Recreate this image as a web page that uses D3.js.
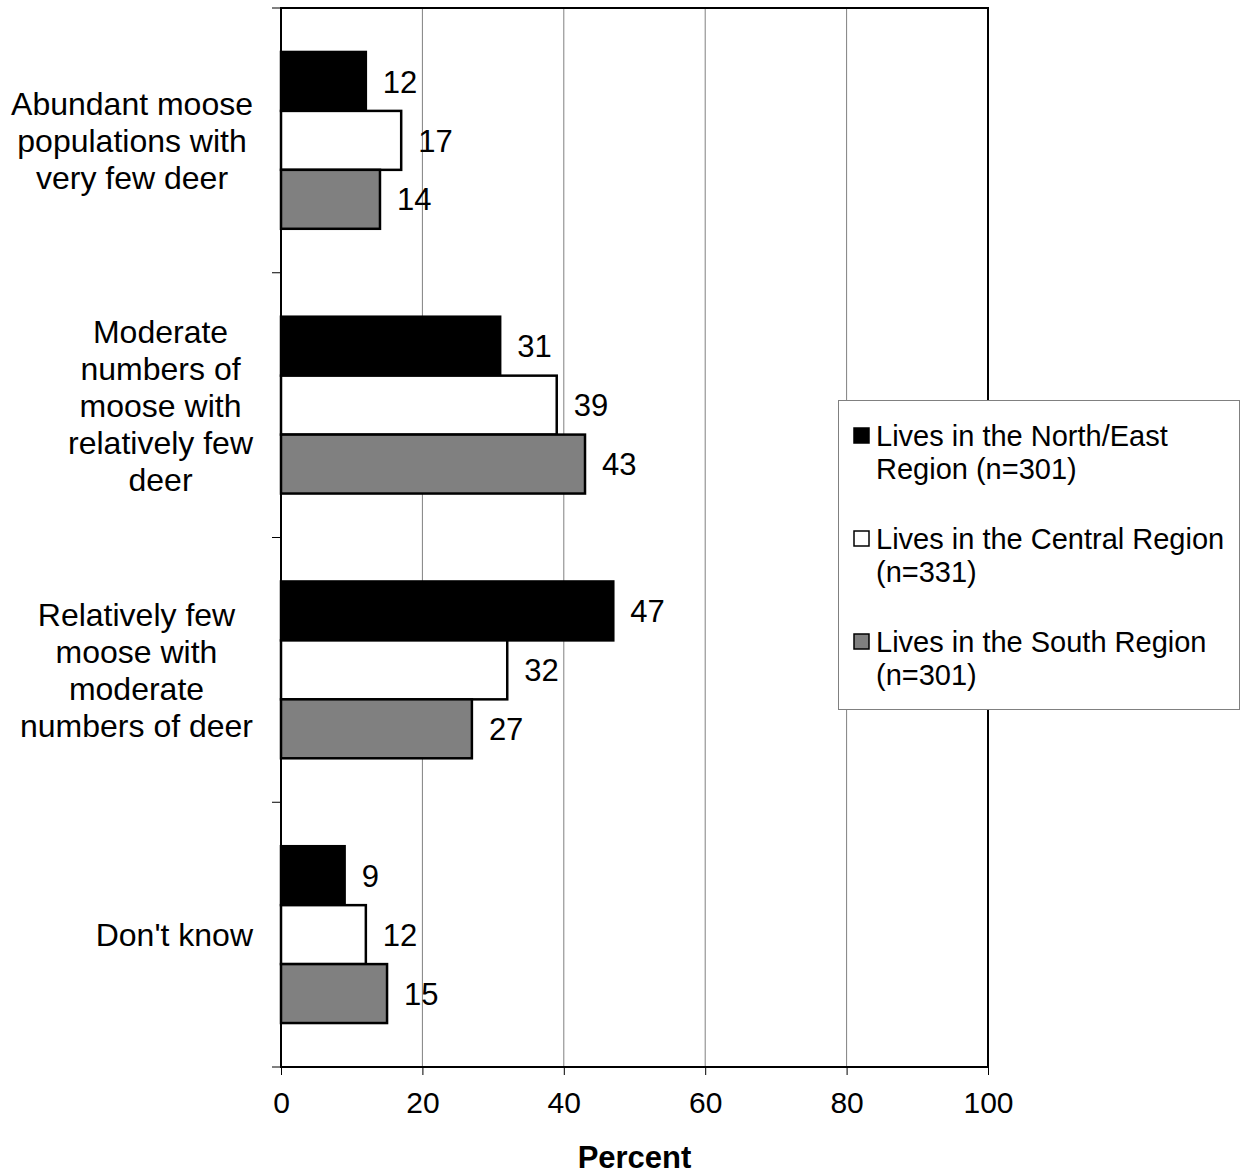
<!DOCTYPE html>
<html><head><meta charset="utf-8">
<script src="https://cdn.jsdelivr.net/npm/d3@7"></script>
<style>body{margin:0;background:#fff}svg{display:block;font-family:"Liberation Sans",Arial,sans-serif}</style>
</head><body><svg id="c" width="1241" height="1174"></svg>
<script>
const categories = [
  ["Abundant moose","populations with","very few deer"],
  ["Moderate","numbers of","moose with","relatively few","deer"],
  ["Relatively few","moose with","moderate","numbers of deer"],
  ["Don't know"]
];
const seriesNames = ["Lives in the North/East Region (n=301)","Lives in the Central Region (n=331)","Lives in the South Region (n=301)"];
const legendLines = [["Lives in the North/East","Region (n=301)"],["Lives in the Central Region","(n=331)"],["Lives in the South Region","(n=301)"]];
const northEast = [12,31,47,9];
const central = [17,39,32,12];
const south = [14,43,27,15];
const xTicks = [0,20,40,60,80,100];
const colors = ["#000000","#ffffff","#808080"];

const series = [northEast, central, south];
const svg = d3.select("#c");
const L = 281, R = 988, T = 8, B = 1067;
const x = d3.scaleLinear().domain([0,100]).range([L,R]);
const p = 88/265;
const y = d3.scaleBand().domain(d3.range(categories.length)).range([T,B]).paddingInner(p).paddingOuter(p/2);
const ys = d3.scaleBand().domain(d3.range(series.length)).range([0,y.bandwidth()]);

// gridlines
svg.append("g").selectAll("line").data(xTicks.filter(d=>d>0&&d<100)).join("line")
  .attr("x1",d=>x(d)).attr("x2",d=>x(d)).attr("y1",T).attr("y2",B)
  .attr("stroke","#808080").attr("stroke-width",1);

// bars
series.forEach((s,si)=>{
  svg.append("g").selectAll("rect").data(s).join("rect")
    .attr("x",L).attr("y",(d,i)=>y(i)+ys(si))
    .attr("width",d=>x(d)-L).attr("height",ys.bandwidth())
    .attr("fill",colors[si]).attr("stroke","#000").attr("stroke-width",2.5);
  svg.append("g").selectAll("text").data(s).join("text")
    .attr("x",d=>x(d)+17).attr("y",(d,i)=>y(i)+ys(si)+ys.bandwidth()/2)
    .attr("dy","0.36em").attr("font-size",31).text(d=>d);
});

// border
svg.append("rect").attr("x",L).attr("y",T).attr("width",R-L).attr("height",B-T)
  .attr("fill","none").attr("stroke","#000").attr("stroke-width",2);

// y ticks
const yTickPos = d3.range(categories.length+1).map(i=>T+i*y.step());
svg.append("g").selectAll("line").data(yTickPos).join("line")
  .attr("x1",272).attr("x2",L).attr("y1",d=>d).attr("y2",d=>d).attr("stroke","#000").attr("stroke-width",1);

// x axis
const xa = svg.append("g").attr("transform",`translate(0,${B})`)
  .call(d3.axisBottom(x).tickValues(xTicks).tickSize(8).tickPadding(17));
xa.select(".domain").remove();
xa.selectAll("line").attr("stroke","#000");
xa.selectAll("text").attr("font-size",30).attr("font-family","Liberation Sans, Arial, sans-serif").attr("fill","#000");

svg.append("text").attr("x",(L+R)/2).attr("y",1168).attr("text-anchor","middle")
  .attr("font-size",31).attr("font-weight","bold").text("Percent");

// category labels
const lh = 37;
categories.forEach((lines,i)=>{
  const g = svg.append("g");
  const cy = y(i)+y.bandwidth()/2;
  const texts = lines.map((ln,k)=>g.append("text").attr("font-size",32)
    .attr("y",cy+(k-(lines.length-1)/2)*lh).attr("dy","0.36em").text(ln));
  const maxW = d3.max(texts,t=>t.node().getComputedTextLength());
  texts.forEach(t=>t.attr("x",253-maxW/2).attr("text-anchor","middle"));
});

// legend
const lg = svg.append("g");
lg.append("rect").attr("x",838.5).attr("y",400.5).attr("width",401).attr("height",309)
  .attr("fill","#fff").attr("stroke","#808080").attr("stroke-width",1);
const entryY = [436,539,642];
legendLines.forEach((lines,i)=>{
  lg.append("rect").attr("x",854).attr("y",entryY[i]-8).attr("width",15).attr("height",15)
    .attr("fill",colors[i]).attr("stroke","#000").attr("stroke-width",1.5);
  lines.forEach((ln,k)=>lg.append("text").attr("x",876).attr("y",entryY[i]+k*33)
    .attr("dy","0.36em").attr("font-size",29).text(ln));
});
</script></body></html>
